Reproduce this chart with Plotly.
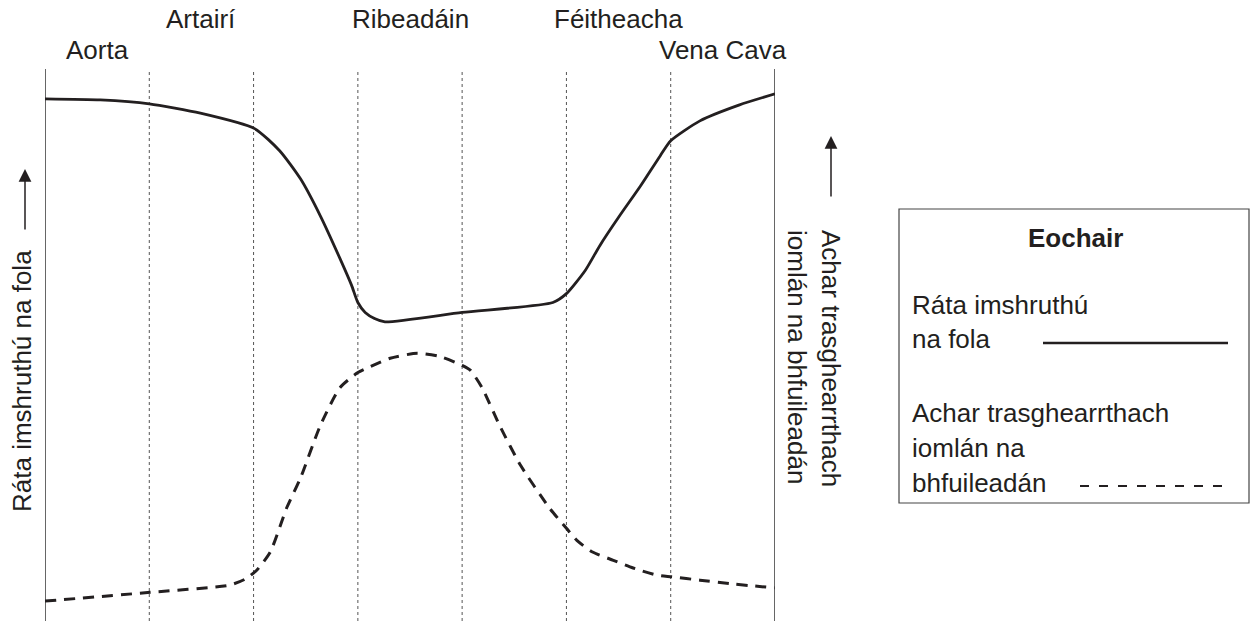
import plotly.graph_objects as go

# ---- data (x: vessel-section position 0..7, y: relative level 0..100) ----
sections = ["Aorta", "Artairí", "Ribeadáin", "Féitheacha", "Vena Cava"]
section_pos = [0.5, 1.5, 3.5, 5.5, 6.5]
section_row = [0, 1, 1, 1, 0]  # 0 = lower label row, 1 = upper label row
divider_pos = [1, 2, 3, 4, 5, 6]

rate_x = [0, 0.53, 1.0, 1.49, 2.01, 2.25, 2.45, 2.64, 2.83, 2.94, 3.0, 3.07, 3.16, 3.26,
          4.0, 4.87, 5.0, 5.18, 5.32, 5.51, 5.71, 5.9, 6.0, 6.28, 6.66, 7.0]
rate_y = [94.6, 94.4, 93.7, 92.0, 89.2, 85.2, 80.1, 73.4, 65.6, 60.8, 57.7, 55.9, 54.8, 54.2,
          55.9, 57.7, 59.3, 63.5, 68.0, 73.4, 78.8, 84.3, 87.0, 90.6, 93.5, 95.5]

area_x = [0, 1.01, 1.77, 1.92, 2.03, 2.16, 2.32, 2.45, 2.64, 2.83, 3.0, 3.1, 3.31, 3.57,
          3.79, 4.0, 4.08, 4.19, 4.36, 4.56, 4.84, 5.0, 5.1, 5.25, 5.45, 5.64, 5.87, 6.01,
          6.28, 6.6, 7.0]
area_y = [3.6, 5.2, 6.5, 7.6, 9.2, 12.5, 20.6, 25.9, 35.4, 42.3, 45.0, 45.9, 47.6, 48.5,
          47.9, 46.3, 45.4, 42.3, 35.4, 28.2, 20.4, 16.8, 14.6, 12.5, 11.0, 9.6, 8.3, 8.0,
          7.4, 6.7, 6.0]

left_label = "Ráta imshruthú na fola"
right_label = ["Achar trasghearrthach", "iomlán na bhfuileadán"]
key_title = "Eochair"
key_rate = ["Ráta imshruthú", "na fola"]
key_area = ["Achar trasghearrthach", "iomlán na", "bhfuileadán"]

# ---- layout geometry (pixels) ----
W, H = 1255, 621
L, R, T, B = 45, 775, 69, 621
INK = "#231f20"
FONT = "Liberation Sans, Arial, sans-serif"
FS = 26


def px(x):
    return (x - L) / (R - L)


def py(y):
    return (B - y) / (B - T)


fig = go.Figure()
fig.add_trace(go.Scatter(x=rate_x, y=rate_y, mode="lines",
                         line=dict(color=INK, width=2.8, shape="spline", smoothing=0.6),
                         hoverinfo="skip", showlegend=False))
fig.add_trace(go.Scatter(x=area_x, y=area_y, mode="lines",
                         line=dict(color=INK, width=3, dash="11px,8px", shape="spline", smoothing=0.6),
                         hoverinfo="skip", showlegend=False))

shapes = []
for d in divider_pos:
    shapes.append(dict(type="line", xref="x", yref="paper", x0=d, x1=d, y0=0, y1=1,
                       line=dict(color="#555555", width=1, dash="dot"), layer="below"))
for xx in (0, 7):
    shapes.append(dict(type="line", xref="x", yref="paper", x0=xx, x1=xx, y0=-0.02, y1=1,
                       line=dict(color="#666666", width=2), layer="below"))
# key box
shapes.append(dict(type="rect", xref="paper", yref="paper", x0=px(899), x1=px(1249),
                   y0=py(503), y1=py(209), line=dict(color="#444444", width=1.2)))
shapes.append(dict(type="line", xref="paper", yref="paper", x0=px(1043), x1=px(1228),
                   y0=py(343), y1=py(343), line=dict(color=INK, width=2.6)))
shapes.append(dict(type="line", xref="paper", yref="paper", x0=px(1080), x1=px(1232),
                   y0=py(486), y1=py(486), line=dict(color=INK, width=2.2, dash="9px,10px")))

ann = []
for name, pos, row in zip(sections, section_pos, section_row):
    ann.append(dict(x=pos, xref="x", y=py(19 if row else 50), yref="paper", text=name,
                    showarrow=False, xanchor="center", yanchor="middle",
                    font=dict(family=FONT, size=FS, color=INK)))
# left axis label and arrow
ann.append(dict(x=px(22), y=py(381), xref="paper", yref="paper", text=left_label,
                textangle=-90, showarrow=False, xanchor="center", yanchor="middle",
                font=dict(family=FONT, size=FS, color=INK)))
ann.append(dict(x=px(25), y=py(169), xref="paper", yref="paper", ax=0, ay=62,
                axref="pixel", ayref="pixel", text="", showarrow=True, arrowhead=2,
                arrowsize=1.7, arrowwidth=1.5, arrowcolor=INK))
# right axis label and arrow
ann.append(dict(x=px(814), y=py(358), xref="paper", yref="paper",
                text="<br>".join(right_label), textangle=90, showarrow=False,
                xanchor="center", yanchor="middle", align="left",
                font=dict(family=FONT, size=FS, color=INK)))
ann.append(dict(x=px(831), y=py(136), xref="paper", yref="paper", ax=0, ay=62,
                axref="pixel", ayref="pixel", text="", showarrow=True, arrowhead=2,
                arrowsize=1.7, arrowwidth=1.5, arrowcolor=INK))
# key
ann.append(dict(x=px(1075), y=py(238), xref="paper", yref="paper", text="<b>" + key_title + "</b>",
                showarrow=False, xanchor="center", yanchor="middle",
                font=dict(family=FONT, size=FS, color=INK)))
for i, t in enumerate(key_rate):
    ann.append(dict(x=px(910), y=py(305 + 34 * i), xref="paper", yref="paper", text=t,
                    showarrow=False, xanchor="left", yanchor="middle",
                    font=dict(family=FONT, size=FS, color=INK)))
for i, t in enumerate(key_area):
    ann.append(dict(x=px(910), y=py(413 + 35 * i), xref="paper", yref="paper", text=t,
                    showarrow=False, xanchor="left", yanchor="middle",
                    font=dict(family=FONT, size=FS, color=INK)))

fig.update_layout(
    width=W, height=H, autosize=False,
    margin=dict(l=L, r=W - R, t=T, b=H - B, pad=0),
    paper_bgcolor="white", plot_bgcolor="white",
    xaxis=dict(range=[0, 7], visible=False, fixedrange=True),
    yaxis=dict(range=[0, 100], visible=False, fixedrange=True),
    shapes=shapes, annotations=ann, showlegend=False,
)
fig.write_html("out.html", config={"displayModeBar": False},
               post_script="document.body.style.margin='0';document.body.style.overflow='hidden';")
